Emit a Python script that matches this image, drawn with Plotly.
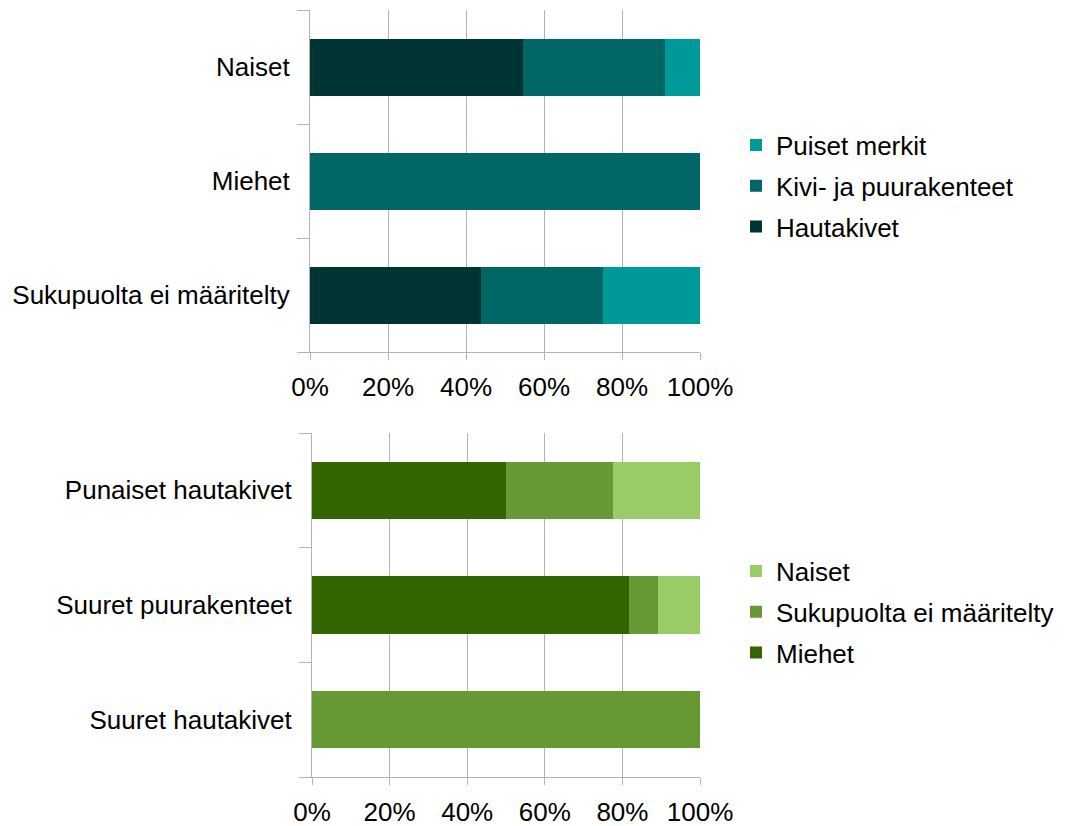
import plotly.graph_objects as go

# Top chart
top_categories = ["Naiset", "Miehet", "Sukupuolta ei määritelty"]
top_hautakivet = [54.5, 0, 43.75]
top_kivi_puu = [36.4, 100, 31.25]
top_puiset = [9.1, 0, 25.0]

# Bottom chart
bot_categories = ["Punaiset hautakivet", "Suuret puurakenteet", "Suuret hautakivet"]
bot_miehet = [50.0, 81.7, 0]
bot_sukupuolta = [27.6, 7.5, 100]
bot_naiset = [22.4, 10.8, 0]

x_ticks = [0, 20, 40, 60, 80, 100]
x_ticklabels = ["0%", "20%", "40%", "60%", "80%", "100%"]

FONT = "Liberation Sans, Arial, sans-serif"
GRID = "#b3b3b3"
FS = 26

W, H = 1065, 826

fig = go.Figure()

top_series = [("Hautakivet", top_hautakivet, "#003333"),
              ("Kivi- ja puurakenteet", top_kivi_puu, "#006666"),
              ("Puiset merkit", top_puiset, "#009999")]
for i, (name, vals, col) in enumerate(top_series):
    fig.add_trace(go.Bar(y=top_categories, x=vals, name=name, orientation="h",
                         marker=dict(color=col, line=dict(width=0)),
                         legendgroup="t%d" % i, legendrank=10 - i,
                         xaxis="x", yaxis="y", legend="legend"))

bot_series = [("Miehet", bot_miehet, "#336600"),
              ("Sukupuolta ei määritelty", bot_sukupuolta, "#669933"),
              ("Naiset", bot_naiset, "#99cc66")]
for i, (name, vals, col) in enumerate(bot_series):
    fig.add_trace(go.Bar(y=bot_categories, x=vals, name=name, orientation="h",
                         marker=dict(color=col, line=dict(width=0)),
                         legendgroup="b%d" % i, legendrank=10 - i,
                         xaxis="x2", yaxis="y2", legend="legend2"))


def px(x):
    return x / W


def py(y):
    return 1 - y / H


def xax(d0, d1, anchor):
    return dict(domain=[px(d0), px(d1)], anchor=anchor, range=[0, 100],
                tickvals=x_ticks, ticktext=x_ticklabels,
                showgrid=True, gridcolor=GRID, gridwidth=1,
                showline=True, linecolor=GRID, linewidth=1,
                ticks="outside", ticklen=7, tickcolor=GRID,
                ticklabelstandoff=5,
                tickfont=dict(size=FS, color="#000000", family=FONT),
                zeroline=False, fixedrange=True, automargin=False)


def yax(top, bottom, anchor, cats):
    return dict(domain=[py(bottom), py(top)], anchor=anchor,
                categoryorder="array", categoryarray=list(reversed(cats)),
                range=[-0.5, 2.5],
                showline=True, linecolor=GRID, linewidth=1,
                ticks="outside", ticklen=12, tickcolor=GRID, tickson="boundaries",
                ticklabelstandoff=14,
                tickfont=dict(size=FS, color="#000000", family=FONT),
                showgrid=False, zeroline=False, fixedrange=True, automargin=False)


legend_common = dict(font=dict(size=FS, color="#000000", family=FONT),
                     traceorder="grouped", tracegroupgap=4,
                     bgcolor="rgba(0,0,0,0)",
                     xanchor="left", yanchor="middle", itemclick=False)

fig.update_layout(
    width=W, height=H,
    margin=dict(l=0, r=0, t=0, b=0, autoexpand=False),
    paper_bgcolor="white", plot_bgcolor="white",
    barmode="stack", bargap=0.5,
    showlegend=True,
    xaxis=xax(310, 700, "y"),
    yaxis=yax(10, 352, "x", top_categories),
    xaxis2=xax(312, 700, "y2"),
    yaxis2=yax(433, 777, "x2", bot_categories),
    legend=dict(x=px(736), y=py(186), **legend_common),
    legend2=dict(x=px(736), y=py(612), **legend_common),
)

fig.write_html("out.html",
               config={"displayModeBar": False},
               post_script="document.body.style.margin='0px';document.body.style.overflow='hidden';")
